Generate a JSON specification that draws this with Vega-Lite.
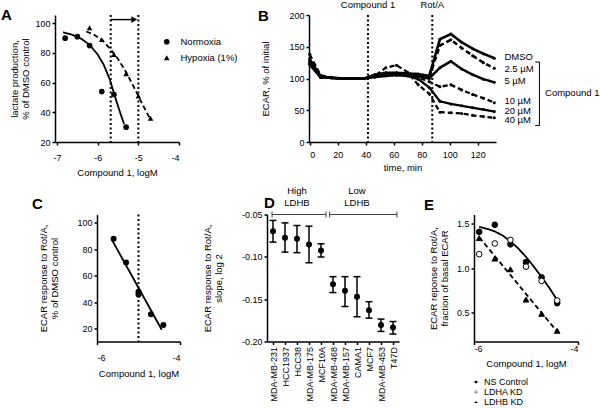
{
  "$schema": "https://vega.github.io/schema/vega-lite/v6.json",
  "padding": {"left": 0, "top": 0, "right": 0, "bottom": 0},
  "background": "white",
  "config": {
    "font": "Liberation Sans",
    "view": {"stroke": null},
    "axis": {"domainColor": "#000", "domainWidth": 1.5, "tickColor": "#000", "tickWidth": 1.5, "tickSize": 3, "labelColor": "#000", "titleColor": "#000", "labelFontSize": 9, "titleFontSize": 9.5, "titleFontWeight": "normal", "grid": false, "labelPadding": 2, "titlePadding": 5, "titleLineHeight": 11, "labelOverlap": false},
    "style": {"guide-title": {"fontWeight": "normal"}},
    "locale": {"number": {"decimal": ".", "thousands": ",", "grouping": [3], "currency": ["$", ""], "minus": "-"}},
    "title": {"fontSize": 15, "fontWeight": "bold", "anchor": "start", "frame": "group", "offset": 0, "color": "#000", "baseline": "bottom"},
    "legend": {"padding": 0, "labelColor": "#000"}
  },
  "datasets": {
    "a_pts": [
      {"series": "Normoxia", "x": -6.8, "y": 90}, {"series": "Normoxia", "x": -6.5, "y": 91}, {"series": "Normoxia", "x": -6.2, "y": 85},
      {"series": "Normoxia", "x": -5.9, "y": 54}, {"series": "Normoxia", "x": -5.6, "y": 52}, {"series": "Normoxia", "x": -5.3, "y": 30},
      {"series": "Hypoxia (1%)", "x": -6.2, "y": 97}, {"series": "Hypoxia (1%)", "x": -5.9, "y": 89}, {"series": "Hypoxia (1%)", "x": -5.6, "y": 79},
      {"series": "Hypoxia (1%)", "x": -5.3, "y": 66}, {"series": "Hypoxia (1%)", "x": -5.0, "y": 51}, {"series": "Hypoxia (1%)", "x": -4.7, "y": 36}
    ],
    "a_fit": [
      {"series": "Normoxia", "x": -6.85, "y": 94}, {"series": "Normoxia", "x": -6.6, "y": 92}, {"series": "Normoxia", "x": -6.4, "y": 89.5},
      {"series": "Normoxia", "x": -6.2, "y": 85.5}, {"series": "Normoxia", "x": -6.0, "y": 79}, {"series": "Normoxia", "x": -5.85, "y": 72},
      {"series": "Normoxia", "x": -5.7, "y": 62}, {"series": "Normoxia", "x": -5.55, "y": 48.5}, {"series": "Normoxia", "x": -5.45, "y": 40},
      {"series": "Normoxia", "x": -5.35, "y": 32},
      {"series": "Hypoxia (1%)", "x": -6.28, "y": 94.5}, {"series": "Hypoxia (1%)", "x": -6.1, "y": 92.5}, {"series": "Hypoxia (1%)", "x": -5.9, "y": 89},
      {"series": "Hypoxia (1%)", "x": -5.7, "y": 83}, {"series": "Hypoxia (1%)", "x": -5.5, "y": 76}, {"series": "Hypoxia (1%)", "x": -5.3, "y": 67},
      {"series": "Hypoxia (1%)", "x": -5.1, "y": 56.5}, {"series": "Hypoxia (1%)", "x": -4.9, "y": 45.5}, {"series": "Hypoxia (1%)", "x": -4.7, "y": 35}
    ],
    "b_lines": [
      {"series": "DMSO", "t": 0, "v": 122}, {"series": "DMSO", "t": 7.8, "v": 102}, {"series": "DMSO", "t": 15.5, "v": 101}, {"series": "DMSO", "t": 23.3, "v": 100}, {"series": "DMSO", "t": 31, "v": 100}, {"series": "DMSO", "t": 38.8, "v": 100}, {"series": "DMSO", "t": 46.5, "v": 106}, {"series": "DMSO", "t": 54.3, "v": 109}, {"series": "DMSO", "t": 62, "v": 109}, {"series": "DMSO", "t": 69.8, "v": 108}, {"series": "DMSO", "t": 77.5, "v": 107}, {"series": "DMSO", "t": 85.3, "v": 104}, {"series": "DMSO", "t": 93, "v": 162}, {"series": "DMSO", "t": 100.8, "v": 170}, {"series": "DMSO", "t": 108.5, "v": 157}, {"series": "DMSO", "t": 116.3, "v": 147}, {"series": "DMSO", "t": 124, "v": 139}, {"series": "DMSO", "t": 131.8, "v": 132},
      {"series": "2.5 µM", "t": 0, "v": 124}, {"series": "2.5 µM", "t": 7.8, "v": 102}, {"series": "2.5 µM", "t": 15.5, "v": 101}, {"series": "2.5 µM", "t": 23.3, "v": 100}, {"series": "2.5 µM", "t": 31, "v": 100}, {"series": "2.5 µM", "t": 38.8, "v": 100}, {"series": "2.5 µM", "t": 46.5, "v": 105}, {"series": "2.5 µM", "t": 54.3, "v": 108}, {"series": "2.5 µM", "t": 62, "v": 108}, {"series": "2.5 µM", "t": 69.8, "v": 107}, {"series": "2.5 µM", "t": 77.5, "v": 106}, {"series": "2.5 µM", "t": 85.3, "v": 102}, {"series": "2.5 µM", "t": 93, "v": 152}, {"series": "2.5 µM", "t": 100.8, "v": 161}, {"series": "2.5 µM", "t": 108.5, "v": 148}, {"series": "2.5 µM", "t": 116.3, "v": 136}, {"series": "2.5 µM", "t": 124, "v": 125}, {"series": "2.5 µM", "t": 131.8, "v": 116},
      {"series": "5 µM", "t": 0, "v": 126}, {"series": "5 µM", "t": 7.8, "v": 102}, {"series": "5 µM", "t": 15.5, "v": 101}, {"series": "5 µM", "t": 23.3, "v": 100}, {"series": "5 µM", "t": 31, "v": 100}, {"series": "5 µM", "t": 38.8, "v": 100}, {"series": "5 µM", "t": 46.5, "v": 104}, {"series": "5 µM", "t": 54.3, "v": 107}, {"series": "5 µM", "t": 62, "v": 107}, {"series": "5 µM", "t": 69.8, "v": 106}, {"series": "5 µM", "t": 77.5, "v": 104}, {"series": "5 µM", "t": 85.3, "v": 100}, {"series": "5 µM", "t": 93, "v": 117}, {"series": "5 µM", "t": 100.8, "v": 127}, {"series": "5 µM", "t": 108.5, "v": 115}, {"series": "5 µM", "t": 116.3, "v": 106}, {"series": "5 µM", "t": 124, "v": 99}, {"series": "5 µM", "t": 131.8, "v": 94},
      {"series": "10 µM", "t": 0, "v": 128}, {"series": "10 µM", "t": 7.8, "v": 103}, {"series": "10 µM", "t": 15.5, "v": 101}, {"series": "10 µM", "t": 23.3, "v": 100}, {"series": "10 µM", "t": 31, "v": 100}, {"series": "10 µM", "t": 38.8, "v": 100}, {"series": "10 µM", "t": 46.5, "v": 103}, {"series": "10 µM", "t": 54.3, "v": 106}, {"series": "10 µM", "t": 62, "v": 106}, {"series": "10 µM", "t": 69.8, "v": 105}, {"series": "10 µM", "t": 77.5, "v": 102}, {"series": "10 µM", "t": 85.3, "v": 95}, {"series": "10 µM", "t": 93, "v": 87}, {"series": "10 µM", "t": 100.8, "v": 90}, {"series": "10 µM", "t": 108.5, "v": 82}, {"series": "10 µM", "t": 116.3, "v": 75}, {"series": "10 µM", "t": 124, "v": 69}, {"series": "10 µM", "t": 131.8, "v": 62},
      {"series": "20 µM", "t": 0, "v": 131}, {"series": "20 µM", "t": 7.8, "v": 104}, {"series": "20 µM", "t": 15.5, "v": 101}, {"series": "20 µM", "t": 23.3, "v": 100}, {"series": "20 µM", "t": 31, "v": 100}, {"series": "20 µM", "t": 38.8, "v": 100}, {"series": "20 µM", "t": 46.5, "v": 102}, {"series": "20 µM", "t": 54.3, "v": 104}, {"series": "20 µM", "t": 62, "v": 105}, {"series": "20 µM", "t": 69.8, "v": 104}, {"series": "20 µM", "t": 77.5, "v": 99}, {"series": "20 µM", "t": 85.3, "v": 86}, {"series": "20 µM", "t": 93, "v": 64}, {"series": "20 µM", "t": 100.8, "v": 60}, {"series": "20 µM", "t": 108.5, "v": 57}, {"series": "20 µM", "t": 116.3, "v": 54}, {"series": "20 µM", "t": 124, "v": 51}, {"series": "20 µM", "t": 131.8, "v": 48},
      {"series": "40 µM", "t": 0, "v": 138}, {"series": "40 µM", "t": 7.8, "v": 105}, {"series": "40 µM", "t": 15.5, "v": 102}, {"series": "40 µM", "t": 23.3, "v": 100}, {"series": "40 µM", "t": 31, "v": 100}, {"series": "40 µM", "t": 38.8, "v": 100}, {"series": "40 µM", "t": 46.5, "v": 104}, {"series": "40 µM", "t": 54.3, "v": 117}, {"series": "40 µM", "t": 62, "v": 121}, {"series": "40 µM", "t": 69.8, "v": 110}, {"series": "40 µM", "t": 77.5, "v": 90}, {"series": "40 µM", "t": 85.3, "v": 76}, {"series": "40 µM", "t": 93, "v": 47}, {"series": "40 µM", "t": 100.8, "v": 46}, {"series": "40 µM", "t": 108.5, "v": 45}, {"series": "40 µM", "t": 116.3, "v": 42}, {"series": "40 µM", "t": 124, "v": 40}, {"series": "40 µM", "t": 131.8, "v": 38}
    ],
    "b_labels": [
      {"label": "DMSO", "v": 134}, {"label": "2.5 µM", "v": 115}, {"label": "5 µM", "v": 96},
      {"label": "10 µM", "v": 64}, {"label": "20 µM", "v": 49}, {"label": "40 µM", "v": 34}
    ],
    "c_pts": [
      {"x": -5.6, "y": 88}, {"x": -5.3, "y": 70}, {"x": -5.0, "y": 48}, {"x": -5.0, "y": 46}, {"x": -4.7, "y": 31}, {"x": -4.4, "y": 23}
    ],
    "c_fit": [{"x": -5.64, "y": 87.2}, {"x": -4.44, "y": 19.4}],
    "d_cells": [
      {"cell": "MDA-MB-231", "pos": 1, "mean": -0.0697, "lo": -0.0826, "hi": -0.057},
      {"cell": "HCC1937", "pos": 2, "mean": -0.0775, "lo": -0.0944, "hi": -0.0599},
      {"cell": "HCC38", "pos": 3, "mean": -0.0787, "lo": -0.0951, "hi": -0.063},
      {"cell": "MDA-MB-175", "pos": 4, "mean": -0.0853, "lo": -0.107, "hi": -0.0638},
      {"cell": "MCF10A", "pos": 5, "mean": -0.0924, "lo": -0.1002, "hi": -0.0846},
      {"cell": "MDA-MB-468", "pos": 6, "mean": -0.1324, "lo": -0.1422, "hi": -0.1234},
      {"cell": "MDA-MB-157", "pos": 7, "mean": -0.1402, "lo": -0.1587, "hi": -0.1234},
      {"cell": "CAMA1", "pos": 8, "mean": -0.147, "lo": -0.1708, "hi": -0.1234},
      {"cell": "MCF7", "pos": 9, "mean": -0.163, "lo": -0.1724, "hi": -0.153},
      {"cell": "MDA-MB-453", "pos": 10, "mean": -0.1806, "lo": -0.1881, "hi": -0.1735},
      {"cell": "T47D", "pos": 11, "mean": -0.1834, "lo": -0.1912, "hi": -0.1764}
    ],
    "d_groups": [
      {"group": "High\nLDHB", "from": 0.92, "to": 5.42, "mid": 3.0},
      {"group": "Low\nLDHB", "from": 5.72, "to": 11.33, "mid": 8.0}
    ],
    "e_pts": [
      {"series": "NS Control", "x": -5.9, "y": 1.41}, {"series": "NS Control", "x": -5.6, "y": 1.49}, {"series": "NS Control", "x": -5.3, "y": 1.27},
      {"series": "NS Control", "x": -5.0, "y": 1.07}, {"series": "NS Control", "x": -4.7, "y": 0.9}, {"series": "NS Control", "x": -4.4, "y": 0.61},
      {"series": "LDHA KD", "x": -5.9, "y": 1.16}, {"series": "LDHA KD", "x": -5.6, "y": 1.28}, {"series": "LDHA KD", "x": -5.3, "y": 1.32},
      {"series": "LDHA KD", "x": -5.0, "y": 1.02}, {"series": "LDHA KD", "x": -4.7, "y": 0.86}, {"series": "LDHA KD", "x": -4.4, "y": 0.64},
      {"series": "LDHB KD", "x": -5.9, "y": 1.34}, {"series": "LDHB KD", "x": -5.6, "y": 1.11}, {"series": "LDHB KD", "x": -5.3, "y": 0.99},
      {"series": "LDHB KD", "x": -5.0, "y": 0.65}, {"series": "LDHB KD", "x": -4.7, "y": 0.49}, {"series": "LDHB KD", "x": -4.4, "y": 0.3}
    ],
    "e_fit": [
      {"series": "NS Control", "x": -5.9, "y": 1.465}, {"series": "NS Control", "x": -5.75, "y": 1.445}, {"series": "NS Control", "x": -5.6, "y": 1.415},
      {"series": "NS Control", "x": -5.45, "y": 1.37}, {"series": "NS Control", "x": -5.3, "y": 1.305}, {"series": "NS Control", "x": -5.15, "y": 1.225},
      {"series": "NS Control", "x": -5.0, "y": 1.13}, {"series": "NS Control", "x": -4.85, "y": 1.02}, {"series": "NS Control", "x": -4.7, "y": 0.905},
      {"series": "NS Control", "x": -4.55, "y": 0.78}, {"series": "NS Control", "x": -4.4, "y": 0.645},
      {"series": "LDHB KD", "x": -5.9, "y": 1.35}, {"series": "LDHB KD", "x": -4.4, "y": 0.29}
    ]
  },
  "spacing": 8.5,
  "vconcat": [
    {
      "spacing": 0,
      "bounds": "flush",
      "hconcat": [
        {"data": {"values": []}, "mark": "point", "width": 55, "height": 10},
        {
          "width": 124,
          "height": 127,
          "title": {"text": "A", "dx": -54, "dy": 12.5},
          "layer": [
            {
              "data": {"values": [{"x": -5.68}, {"x": -5.0}]},
              "mark": {"type": "rule", "strokeDash": [2, 2.5], "strokeWidth": 2, "color": "#000"},
              "encoding": {
                "x": {"field": "x", "type": "quantitative", "scale": {"domain": [-7.05, -4], "nice": false, "zero": false}, "axis": {"values": [-7, -6, -5, -4], "tickCount": 20, "format": "d", "title": "Compound 1, logM", "labelPadding": 8, "titlePadding": 5}}
              }
            },
            {
              "data": {"values": [{"x": -5.68, "x2": -5.12, "y": 102.5}]},
              "mark": {"type": "rule", "strokeWidth": 1.5, "color": "#000"},
              "encoding": {
                "x": {"field": "x", "type": "quantitative", "scale": {"domain": [-7.05, -4], "nice": false, "zero": false}, "axis": {"values": [-7, -6, -5, -4], "tickCount": 20, "format": "d", "title": "Compound 1, logM", "labelPadding": 8, "titlePadding": 5}},
                "x2": {"field": "x2"},
                "y": {"field": "y", "type": "quantitative", "scale": {"domain": [20, 105.6], "nice": false, "zero": false}, "axis": {"values": [20, 40, 60, 80, 100], "tickCount": 20, "title": ["lactate production,", "% of DMSO control"], "titlePadding": 4}}
              }
            },
            {
              "data": {"values": [{"x": -5.1, "y": 102.5}]},
              "mark": {"type": "point", "shape": "triangle-right", "filled": true, "size": 45, "color": "#000", "opacity": 1},
              "encoding": {
                "x": {"field": "x", "type": "quantitative", "scale": {"domain": [-7.05, -4], "nice": false, "zero": false}},
                "y": {"field": "y", "type": "quantitative", "scale": {"domain": [20, 105.6], "nice": false, "zero": false}}
              }
            },
            {
              "data": {"name": "a_fit"},
              "mark": {"type": "line", "strokeWidth": 1.8, "color": "#000"},
              "encoding": {
                "x": {"field": "x", "type": "quantitative", "scale": {"domain": [-7.05, -4], "nice": false, "zero": false}},
                "y": {"field": "y", "type": "quantitative", "scale": {"domain": [20, 105.6], "nice": false, "zero": false}},
                "strokeDash": {"field": "series", "type": "nominal", "scale": {"domain": ["Normoxia", "Hypoxia (1%)"], "range": [[1, 0], [5, 3]]}, "legend": null}
              }
            },
            {
              "data": {"name": "a_pts"},
              "mark": {"type": "point", "filled": true, "size": 32, "color": "#000", "opacity": 1},
              "encoding": {
                "x": {"field": "x", "type": "quantitative", "scale": {"domain": [-7.05, -4], "nice": false, "zero": false}},
                "y": {"field": "y", "type": "quantitative", "scale": {"domain": [20, 105.6], "nice": false, "zero": false}},
                "shape": {"field": "series", "type": "nominal", "scale": {"domain": ["Normoxia", "Hypoxia (1%)"], "range": ["circle", "triangle-up"]}, "legend": {"orient": "none", "legendX": 162, "legendY": 22, "title": null, "labelFontSize": 9.5, "symbolSize": 32, "symbolFillColor": "#000", "symbolStrokeColor": "#000", "symbolStrokeWidth": 0, "rowPadding": 5, "labelOffset": 9}}
              }
            }
          ]
        },
        {"data": {"values": []}, "mark": "point", "width": 130, "height": 10},
        {
          "width": 187,
          "height": 127,
          "title": {"text": "B", "dx": -51, "dy": 28},
          "layer": [
            {
              "data": {"values": [{"t": 41.6, "label": "Compound 1"}, {"t": 87.5, "label": "Rot/A"}]},
              "mark": {"type": "rule", "strokeDash": [2, 2.5], "strokeWidth": 2, "color": "#000"},
              "encoding": {
                "x": {"field": "t", "type": "quantitative", "scale": {"domain": [-0.5, 133], "nice": false, "zero": false}, "axis": {"values": [0, 20, 40, 60, 80, 100, 120], "tickCount": 20, "title": "time, min", "labelPadding": 5, "titlePadding": 3}}
              }
            },
            {
              "data": {"values": [{"t": 41.6, "label": "Compound 1"}, {"t": 87.5, "label": "Rot/A"}]},
              "mark": {"type": "text", "baseline": "bottom", "dy": -5, "fontSize": 9.5, "color": "#000"},
              "encoding": {
                "x": {"field": "t", "type": "quantitative", "scale": {"domain": [-0.5, 133], "nice": false, "zero": false}},
                "y": {"datum": 200, "type": "quantitative", "scale": {"domain": [0, 200], "nice": false}},
                "text": {"field": "label"}
              }
            },
            {
              "data": {"name": "b_lines"},
              "mark": {"type": "line", "color": "#000", "point": {"filled": true, "size": 9, "color": "#000"}},
              "encoding": {
                "x": {"field": "t", "type": "quantitative", "scale": {"domain": [-0.5, 133], "nice": false, "zero": false}},
                "y": {"field": "v", "type": "quantitative", "scale": {"domain": [0, 200], "nice": false}, "axis": {"values": [0, 50, 100, 150, 200], "tickCount": 20, "title": "ECAR, % of initial", "titlePadding": 18}},
                "strokeDash": {"field": "series", "type": "nominal", "scale": {"domain": ["DMSO", "2.5 µM", "5 µM", "10 µM", "20 µM", "40 µM"], "range": [[1, 0], [1, 0], [1, 0], [4, 2], [5, 2, 1, 2], [1, 2]]}, "legend": null},
                "strokeWidth": {"field": "series", "type": "nominal", "scale": {"domain": ["DMSO", "2.5 µM", "5 µM", "10 µM", "20 µM", "40 µM"], "range": [2.6, 2.2, 0.9, 2, 1.3, 1.2]}, "legend": null}
              }
            },
            {
              "data": {"name": "b_labels"},
              "mark": {"type": "text", "align": "left", "baseline": "middle", "fontSize": 9.5, "color": "#000"},
              "encoding": {
                "x": {"datum": 139, "type": "quantitative", "scale": {"domain": [-0.5, 133], "nice": false, "zero": false}},
                "y": {"field": "v", "type": "quantitative", "scale": {"domain": [0, 200], "nice": false}},
                "text": {"field": "label"}
              }
            },
            {
              "data": {"values": [{"label": "Compound 1"}]},
              "mark": {"type": "rule", "strokeWidth": 1, "color": "#000"},
              "encoding": {
                "x": {"datum": 164, "type": "quantitative", "scale": {"domain": [-0.5, 133], "nice": false, "zero": false}},
                "y": {"datum": 126, "type": "quantitative", "scale": {"domain": [0, 200], "nice": false}},
                "y2": {"datum": 26}
              }
            },
            {
              "data": {"values": [{"label": "Compound 1", "v": 126}, {"label": "Compound 1", "v": 26}]},
              "mark": {"type": "rule", "strokeWidth": 1, "color": "#000"},
              "encoding": {
                "x": {"datum": 161, "type": "quantitative", "scale": {"domain": [-0.5, 133], "nice": false, "zero": false}},
                "x2": {"datum": 164},
                "y": {"field": "v", "type": "quantitative", "scale": {"domain": [0, 200], "nice": false}}
              }
            },
            {
              "data": {"values": [{"label": "Compound 1"}]},
              "mark": {"type": "text", "align": "left", "baseline": "middle", "fontSize": 9.5, "color": "#000"},
              "encoding": {
                "x": {"datum": 168, "type": "quantitative", "scale": {"domain": [-0.5, 133], "nice": false, "zero": false}},
                "y": {"datum": 77, "type": "quantitative", "scale": {"domain": [0, 200], "nice": false}},
                "text": {"field": "label"}
              }
            }
          ]
        }
      ]
    },
    {
      "spacing": 0,
      "bounds": "flush",
      "hconcat": [
        {"data": {"values": []}, "mark": "point", "width": 97, "height": 10},
        {
          "width": 83,
          "height": 127,
          "title": {"text": "C", "dx": -65, "dy": 2},
          "layer": [
            {
              "data": {"values": [{"x": -5.0}]},
              "mark": {"type": "rule", "strokeDash": [2, 2.5], "strokeWidth": 2, "color": "#000"},
              "encoding": {
                "x": {"field": "x", "type": "quantitative", "scale": {"domain": [-6, -4], "nice": false, "zero": false}, "axis": {"values": [-6, -5, -4], "tickCount": 20, "format": "d", "title": "Compound 1, logM", "labelPadding": 9, "titlePadding": 6}}
              }
            },
            {
              "data": {"name": "c_fit"},
              "mark": {"type": "line", "strokeWidth": 1.8, "color": "#000"},
              "encoding": {
                "x": {"field": "x", "type": "quantitative", "scale": {"domain": [-6, -4], "nice": false, "zero": false}},
                "y": {"field": "y", "type": "quantitative", "scale": {"domain": [10.5, 106.3], "nice": false, "zero": false}, "axis": {"values": [20, 40, 60, 80, 100], "tickCount": 20, "title": ["ECAR response to Rot/A,", "% of DMSO control"], "titlePadding": 17}}
              }
            },
            {
              "data": {"name": "c_pts"},
              "mark": {"type": "point", "filled": true, "size": 36, "color": "#000", "opacity": 1},
              "encoding": {
                "x": {"field": "x", "type": "quantitative", "scale": {"domain": [-6, -4], "nice": false, "zero": false}},
                "y": {"field": "y", "type": "quantitative", "scale": {"domain": [10.5, 106.3], "nice": false, "zero": false}}
              }
            }
          ]
        },
        {"data": {"values": []}, "mark": "point", "width": 87, "height": 10},
        {
          "width": 132,
          "height": 127,
          "title": {"text": "D", "dx": -3, "dy": 29.5},
          "layer": [
            {
              "data": {"name": "d_cells"},
              "mark": {"type": "rule", "strokeWidth": 1.5, "color": "#000"},
              "encoding": {
                "x": {"field": "pos", "type": "quantitative", "scale": {"domain": [0.5, 11.5], "nice": false, "zero": false}, "axis": {"values": [1, 2, 3, 4, 5, 6, 7, 8, 9, 10, 11], "tickCount": 20, "labelExpr": "['MDA-MB-231','HCC1937','HCC38','MDA-MB-175','MCF10A','MDA-MB-468','MDA-MB-157','CAMA1','MCF7','MDA-MB-453','T47D'][datum.value - 1]", "labelAngle": 270, "labelAlign": "right", "labelBaseline": "middle", "labelFontSize": 9, "title": null, "labelPadding": 2}},
                "y": {"field": "lo", "type": "quantitative", "scale": {"domain": [-0.2, -0.05], "nice": false, "zero": false}, "axis": {"values": [-0.2, -0.15, -0.1, -0.05], "tickCount": 20, "format": ".2f", "title": ["ECAR response to Rot/A,", "slope, log 2"], "titlePadding": 18}},
                "y2": {"field": "hi"}
              }
            },
            {
              "data": {"name": "d_cells"},
              "mark": {"type": "tick", "orient": "horizontal", "size": 7, "thickness": 1.5, "color": "#000", "opacity": 1},
              "encoding": {
                "x": {"field": "pos", "type": "quantitative", "scale": {"domain": [0.5, 11.5], "nice": false, "zero": false}},
                "y": {"field": "lo", "type": "quantitative", "scale": {"domain": [-0.2, -0.05], "nice": false, "zero": false}}
              }
            },
            {
              "data": {"name": "d_cells"},
              "mark": {"type": "tick", "orient": "horizontal", "size": 7, "thickness": 1.5, "color": "#000", "opacity": 1},
              "encoding": {
                "x": {"field": "pos", "type": "quantitative", "scale": {"domain": [0.5, 11.5], "nice": false, "zero": false}},
                "y": {"field": "hi", "type": "quantitative", "scale": {"domain": [-0.2, -0.05], "nice": false, "zero": false}}
              }
            },
            {
              "data": {"name": "d_cells"},
              "mark": {"type": "point", "filled": true, "size": 36, "color": "#000", "opacity": 1},
              "encoding": {
                "x": {"field": "pos", "type": "quantitative", "scale": {"domain": [0.5, 11.5], "nice": false, "zero": false}},
                "y": {"field": "mean", "type": "quantitative", "scale": {"domain": [-0.2, -0.05], "nice": false, "zero": false}}
              }
            },
            {
              "data": {"name": "d_groups"},
              "mark": {"type": "rule", "strokeWidth": 1, "color": "#444"},
              "encoding": {
                "x": {"field": "from", "type": "quantitative", "scale": {"domain": [0.5, 11.5], "nice": false, "zero": false}},
                "x2": {"field": "to"},
                "y": {"datum": -0.05, "type": "quantitative", "scale": {"domain": [-0.2, -0.05], "nice": false, "zero": false}}
              }
            },
            {
              "data": {"name": "d_groups"},
              "mark": {"type": "tick", "orient": "vertical", "size": 6, "thickness": 1, "color": "#444", "opacity": 1},
              "encoding": {
                "x": {"field": "from", "type": "quantitative", "scale": {"domain": [0.5, 11.5], "nice": false, "zero": false}},
                "y": {"datum": -0.05, "type": "quantitative", "scale": {"domain": [-0.2, -0.05], "nice": false, "zero": false}}
              }
            },
            {
              "data": {"name": "d_groups"},
              "mark": {"type": "tick", "orient": "vertical", "size": 6, "thickness": 1, "color": "#444", "opacity": 1},
              "encoding": {
                "x": {"field": "to", "type": "quantitative", "scale": {"domain": [0.5, 11.5], "nice": false, "zero": false}},
                "y": {"datum": -0.05, "type": "quantitative", "scale": {"domain": [-0.2, -0.05], "nice": false, "zero": false}}
              }
            },
            {
              "data": {"name": "d_groups"},
              "mark": {"type": "text", "lineBreak": "\n", "lineHeight": 12, "baseline": "middle", "align": "center", "dy": -24, "fontSize": 9.5, "color": "#000"},
              "encoding": {
                "x": {"field": "mid", "type": "quantitative", "scale": {"domain": [0.5, 11.5], "nice": false, "zero": false}},
                "y": {"datum": -0.05, "type": "quantitative", "scale": {"domain": [-0.2, -0.05], "nice": false, "zero": false}},
                "text": {"field": "group"}
              }
            }
          ]
        },
        {"data": {"values": []}, "mark": "point", "width": 75, "height": 10},
        {
          "width": 104,
          "height": 127,
          "title": {"text": "E", "dx": -50, "dy": 2},
          "resolve": {"scale": {"shape": "independent", "fill": "independent"}},
          "layer": [
            {
              "data": {"name": "e_fit"},
              "mark": {"type": "line", "strokeWidth": 1.8, "color": "#000"},
              "encoding": {
                "x": {"field": "x", "type": "quantitative", "scale": {"domain": [-6, -4], "nice": false, "zero": false}, "axis": {"values": [-6, -5, -4], "tickCount": 20, "format": "d", "title": "Compound 1, logM", "labelPadding": 0, "titlePadding": 5}},
                "y": {"field": "y", "type": "quantitative", "scale": {"domain": [0.18, 1.605], "nice": false, "zero": false}, "axis": {"values": [0.5, 1.0, 1.5], "tickCount": 20, "format": ".1f", "title": ["ECAR reponse to Rot/A,", "fraction of basal ECAR"], "titlePadding": 7}},
                "strokeDash": {"field": "series", "type": "nominal", "scale": {"domain": ["NS Control", "LDHB KD"], "range": [[1, 0], [2, 2]]}, "legend": null}
              }
            },
            {
              "data": {"name": "e_pts"},
              "mark": {"type": "point", "filled": true, "size": 32, "stroke": "#000", "strokeWidth": 1, "opacity": 1},
              "encoding": {
                "x": {"field": "x", "type": "quantitative", "scale": {"domain": [-6, -4], "nice": false, "zero": false}},
                "y": {"field": "y", "type": "quantitative", "scale": {"domain": [0.18, 1.605], "nice": false, "zero": false}},
                "shape": {"field": "series", "type": "nominal", "scale": {"domain": ["NS Control", "LDHA KD", "LDHB KD"], "range": ["circle", "circle", "triangle-up"]}, "legend": null},
                "fill": {"field": "series", "type": "nominal", "scale": {"domain": ["NS Control", "LDHA KD", "LDHB KD"], "range": ["#000", "#fff", "#000"]}, "legend": null}
              }
            },
            {
              "data": {"name": "e_pts"},
              "mark": {"type": "point", "filled": true, "size": 32, "color": "#000", "opacity": 0},
              "encoding": {
                "x": {"field": "x", "type": "quantitative", "scale": {"domain": [-6, -4], "nice": false, "zero": false}},
                "y": {"field": "y", "type": "quantitative", "scale": {"domain": [0.18, 1.605], "nice": false, "zero": false}},
                "shape": {"field": "series", "type": "nominal", "sort": ["NS Control", "LDHA KD", "LDHB KD"], "scale": {"range": ["M-1,-0.12H1V0.12H-1ZM-0.5,0A0.5,0.5,0,1,1,0.5,0A0.5,0.5,0,1,1,-0.5,0Z", "M-0.55,0A0.55,0.55,0,1,1,0.55,0A0.55,0.55,0,1,1,-0.55,0ZM-0.36,0A0.36,0.36,0,1,0,0.36,0A0.36,0.36,0,1,0,-0.36,0Z", "M-1.15,0.05H-0.95V0.27H-1.15ZM-0.8,0.05H-0.6V0.27H-0.8ZM0.6,0.05H0.8V0.27H0.6ZM0.95,0.05H1.15V0.27H0.95ZM0,-0.55L0.55,0.4L-0.55,0.4Z"]}, "legend": {"orient": "none", "legendX": -2.5, "legendY": 163, "title": null, "labelFontSize": 9, "symbolSize": 25, "symbolFillColor": "#000", "symbolStrokeColor": "#000", "symbolStrokeWidth": 0, "symbolOpacity": 1, "rowPadding": -0.5, "labelOffset": 3.5}}
              }
            }
          ]
        }
      ]
    }
  ]
}
